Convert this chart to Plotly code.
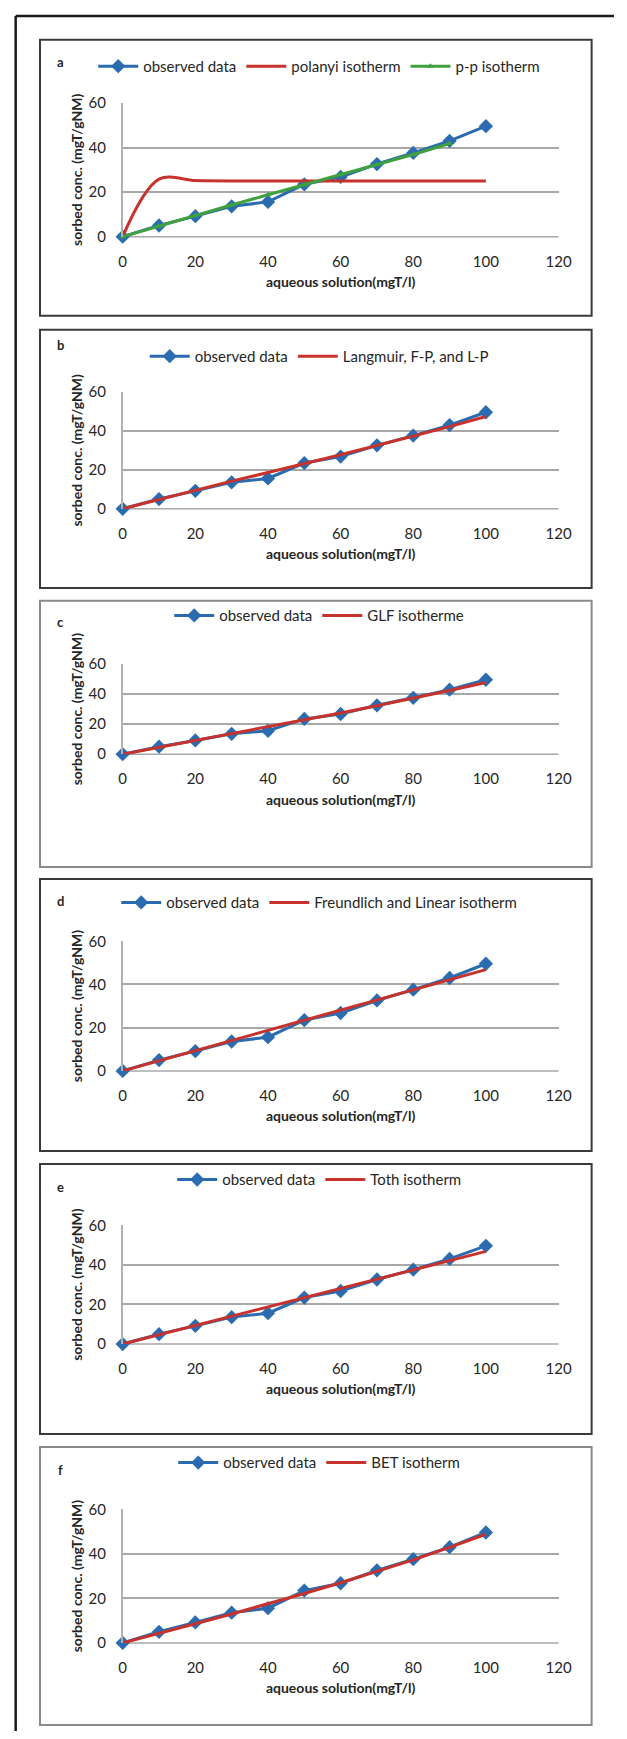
import plotly.graph_objects as go

W, H = 627, 1739

x_obs = [0, 10, 20, 30, 40, 50, 60, 70, 80, 90, 100]
observed = [0, 5.0, 9.2, 13.6, 15.6, 23.5, 26.8, 32.6, 37.6, 43.0, 49.6]

polanyi = [0, 25.8, 25.2, 25.0, 25.0, 25.0, 25.0, 25.0, 25.0, 25.0, 25.0]
x_pp = [0, 10, 20, 30, 40, 50, 60, 70, 80, 90]
pp_iso = [0, 4.8, 9.5, 14.2, 18.8, 23.3, 27.8, 32.3, 36.9, 41.8]
langmuir = [0, 4.8, 9.5, 14.2, 18.6, 23.1, 27.8, 32.5, 37.3, 42.2, 47.4]
glf = [0, 4.5, 9.0, 13.6, 18.1, 22.8, 27.5, 32.3, 37.2, 42.4, 47.8]
freundlich = [0, 4.7, 9.4, 14.1, 18.8, 23.5, 28.2, 32.8, 37.5, 42.2, 46.9]
toth = [0, 4.7, 9.4, 14.1, 18.7, 23.3, 28.0, 32.6, 37.3, 42.0, 46.8]
bet = [0, 4.2, 8.6, 13.0, 17.5, 22.2, 27.0, 32.0, 37.3, 42.9, 48.8]

x_ticks = [0, 20, 40, 60, 80, 100, 120]
y_ticks = [0, 20, 40, 60]
panel_letters = ["a", "b", "c", "d", "e", "f"]
x_title = "aqueous solution(mgT/l)"
y_title = "sorbed conc. (mgT/gNM)"

BLUE = "#2b6cb0"
RED = "#c8322c"
GREEN = "#3fa03f"

# panel geometry in pixels: box top, box bottom, y of 60, y of 0, legend y, letter y, border color
panels = [
    dict(top=30, bot=309, y60=94, y0=229, leg=57, let=53, bc="#3a3a3a"),
    dict(top=323, bot=584, y60=386, y0=504, leg=350, let=338, bc="#3a3a3a"),
    dict(top=597, bot=866, y60=661, y0=752, leg=612, let=618, bc="#8a8a8a"),
    dict(top=878, bot=1153, y60=941, y0=1072, leg=902, let=900, bc="#3a3a3a"),
    dict(top=1166, bot=1439, y60=1228, y0=1348, leg=1182, let=1189, bc="#3a3a3a"),
    dict(top=1452, bot=1733, y60=1515, y0=1650, leg=1468, let=1475, bc="#8a8a8a"),
]

fits = [
    [("polanyi isotherm", x_obs, polanyi, RED, "spline"), ("p-p isotherm", x_pp, pp_iso, GREEN, "pp")],
    [("Langmuir, F-P, and L-P", x_obs, langmuir, RED, "linear")],
    [("GLF isotherme", x_obs, glf, RED, "linear")],
    [("Freundlich and Linear isotherm", x_obs, freundlich, RED, "linear")],
    [("Toth isotherm", x_obs, toth, RED, "linear")],
    [("BET isotherm", x_obs, bet, RED, "linear")],
]

X0, X1 = 122, 570

def py(p):
    return 1 - p / H

def px(p):
    return p / W

fig = go.Figure()
shapes = []
annotations = []
layout = {}

FONT = "Lato, Open Sans, sans-serif"
TXT = "#262626"

for i, p in enumerate(panels):
    n = i + 1
    xa = "x" if n == 1 else f"x{n}"
    ya = "y" if n == 1 else f"y{n}"
    lg = "legend" if n == 1 else f"legend{n}"
    fig.add_trace(go.Scatter(
        x=x_obs, y=observed, mode="lines+markers", name="observed data",
        line=dict(color=BLUE, width=3),
        marker=dict(symbol="diamond", size=11, color=BLUE),
        xaxis=xa, yaxis=ya, legend=lg, cliponaxis=False))
    for name, xs, ys, col, kind in fits[i]:
        if kind == "pp":
            fig.add_trace(go.Scatter(
                x=xs, y=ys, mode="lines+markers", name=name,
                line=dict(color=col, width=3),
                marker=dict(symbol="triangle-up", size=6, color=col),
                xaxis=xa, yaxis=ya, legend=lg, cliponaxis=False))
        else:
            fig.add_trace(go.Scatter(
                x=xs, y=ys, mode="lines", name=name,
                line=dict(color=col, width=3, shape="spline" if kind == "spline" else "linear", smoothing=1.0),
                xaxis=xa, yaxis=ya, legend=lg, cliponaxis=False))

    layout[("xaxis" if n == 1 else f"xaxis{n}")] = dict(
        domain=[px(X0), px(X1)], range=[0, 120], anchor=ya,
        tickvals=x_ticks, ticks="outside", ticklen=11, tickcolor="rgba(0,0,0,0)",
        showgrid=False, zeroline=False, showline=False,
        tickfont=dict(family=FONT, size=15, color=TXT),
        title=dict(text=x_title, font=dict(family=FONT, size=14, color=TXT, weight="bold"), standoff=8),
        fixedrange=True,
    )
    layout[("yaxis" if n == 1 else f"yaxis{n}")] = dict(
        domain=[py(p["y0"]), py(p["y60"])], range=[0, 60], anchor=xa,
        tickvals=y_ticks, ticks="outside", ticklen=12, tickcolor="rgba(0,0,0,0)",
        showgrid=True, gridcolor="#a8a8a8", gridwidth=1.5,
        zeroline=False, showline=True, linecolor="#b0b0b0", linewidth=1.5,
        tickfont=dict(family=FONT, size=15, color=TXT),
        title=dict(text=y_title, font=dict(family=FONT, size=14, color=TXT, weight="bold"), standoff=3),
        fixedrange=True,
    )
    layout[lg] = dict(
        orientation="h", x=px(324), xanchor="center", y=py(p["leg"]), yanchor="middle",
        font=dict(family=FONT, size=15, color=TXT), bgcolor="rgba(0,0,0,0)",
        itemwidth=40, tracegroupgap=0,
    )
    # bottom gridline at y=0
    shapes.append(dict(type="line", xref="paper", yref="paper",
                       x0=px(X0), x1=px(X1), y0=py(p["y0"]), y1=py(p["y0"]),
                       line=dict(color="#a8a8a8", width=1.5), layer="below"))
    # panel border
    shapes.append(dict(type="rect", xref="paper", yref="paper",
                       x0=px(37), x1=px(604), y0=py(p["bot"]), y1=py(p["top"]),
                       line=dict(color=p["bc"], width=2)))
    annotations.append(dict(text=panel_letters[i], xref="paper", yref="paper",
                            x=px(58), y=py(p["let"]), xanchor="center", yanchor="middle",
                            showarrow=False,
                            font=dict(family=FONT, size=13, color=TXT, weight="bold")))

# outer frame (left and top)
shapes.append(dict(type="line", xref="paper", yref="paper", x0=px(12), x1=px(12), y0=0, y1=py(6),
                   line=dict(color="#1a1a1a", width=2.5)))
shapes.append(dict(type="line", xref="paper", yref="paper", x0=px(12), x1=1, y0=py(6), y1=py(6),
                   line=dict(color="#1a1a1a", width=2.5)))

fig.update_layout(
    width=W, height=H, margin=dict(l=0, r=0, t=0, b=0),
    paper_bgcolor="white", plot_bgcolor="white",
    shapes=shapes, annotations=annotations, showlegend=True,
    **layout,
)

fig.write_html(
    "out.html",
    config={"displayModeBar": False},
    post_script="document.body.style.margin='0px';document.documentElement.style.overflow='hidden';",
)
